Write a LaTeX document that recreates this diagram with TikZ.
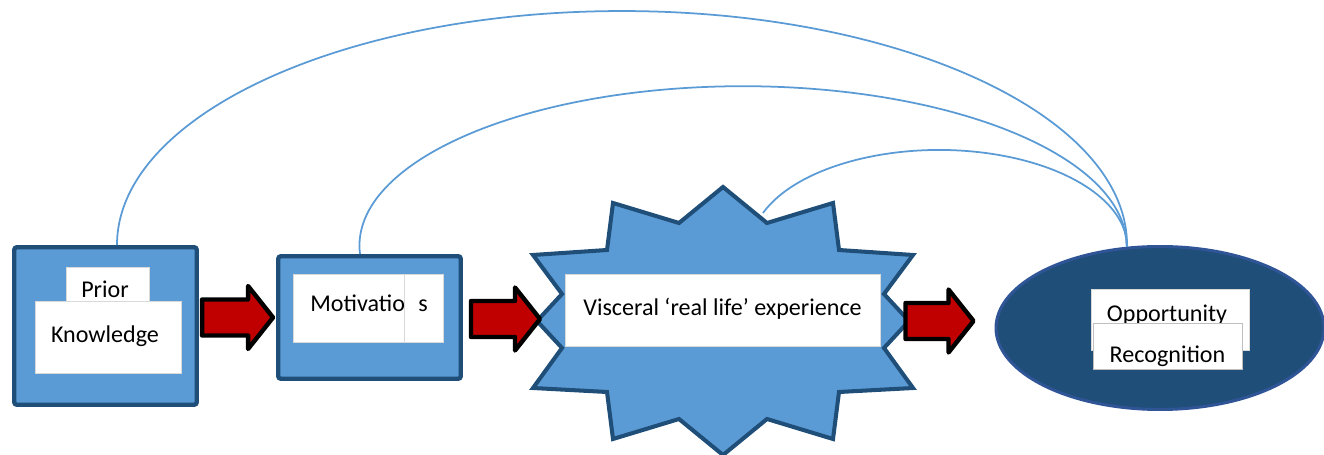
\documentclass[tikz,border=0pt]{standalone}
\usepackage{fontspec}
\setmainfont{Carlito}
\usepackage{tikz}
\usetikzlibrary{shapes.geometric, calc, positioning}

\definecolor{boxblue}{HTML}{5B9BD5}
\definecolor{rimblue}{HTML}{1F4E79}
\definecolor{ovalrim}{HTML}{2F5597}
\definecolor{arrowred}{HTML}{C00000}

% fat red arrow ending at #1, #2 cm long
\newcommand{\redarrow}[2]{%
  \draw[blockarrow] (#1) -- ++(-0.5,0.63) -- ++(0,-0.27) -- ++({0.5-#2},0)
    -- ++(0,-0.72) -- ++({#2-0.5},0) -- ++(0,-0.27) -- cycle;}

\begin{document}
\begin{tikzpicture}[
    bigbox/.style={draw=rimblue, fill=boxblue, line width=2.5pt, rounded corners=1.5pt, inner sep=0pt},
    whitebox/.style={fill=white, draw=black!15, line width=0.4pt, inner sep=0pt},
    boxtext/.style={font=\fontsize{13.7}{16}\selectfont, inner sep=0pt, anchor=base},
    blockarrow/.style={draw=black, fill=arrowred, line width=2.5pt, line join=round},
    burst/.style={draw=rimblue, fill=boxblue, line width=2.3pt, line join=miter},
    link/.style={draw=boxblue, line width=1pt}
  ]
    \useasboundingbox (0,0) rectangle (26.48,9.1);

    % Prior Knowledge
    \node[bigbox, minimum width=3.65cm, minimum height=3.15cm] (prior) at (2.11,2.58) {};
    \node[whitebox, minimum width=1.66cm, minimum height=0.88cm] (priorbox) at (2.15,3.32) {};
    \node[whitebox, minimum width=2.92cm, minimum height=1.44cm] (knowbox) at (2.16,2.36) {};
    \node[boxtext] (priortxt) at (2.1,3.14) {Prior};
    \node[boxtext] (knowtxt) at (2.1,2.24) {Knowledge};

    % Motivations
    \node[bigbox, minimum width=3.65cm, minimum height=2.45cm] (moti) at (7.39,2.75) {};
    \node[whitebox, minimum width=3cm, minimum height=1.36cm] (motibox) at (7.36,2.94) {};
    \draw[black!15] ($(motibox.north west)!0.74!(motibox.north east)$) -- ($(motibox.south west)!0.74!(motibox.south east)$);
    \node[boxtext, anchor=base west] (motitxt) at (6.2,2.86) {Motivatio};
    \node[boxtext] (motis) at (8.46,2.86) {s};

    % Visceral experience burst
    \coordinate (star) at (14.46,2.68);
    \draw[burst, shift={(star)}] (0,2.68) -- (0.88,1.96) -- (2.2,2.36) -- (2.32,1.42)
        -- (3.8,1.32) -- (3.22,0.54) -- (3.72,0) -- (3.22,-0.54) -- (3.8,-1.34)
        -- (2.32,-1.42) -- (2.2,-2.36) -- (0.88,-1.96) -- (0,-2.68) -- (-0.88,-1.96)
        -- (-2.2,-2.36) -- (-2.32,-1.42) -- (-3.8,-1.34) -- (-3.22,-0.54) -- (-3.72,0)
        -- (-3.22,0.54) -- (-3.8,1.32) -- (-2.32,1.42) -- (-2.2,2.36) -- (-0.88,1.96) -- cycle;
    \node[whitebox, minimum width=6.3cm, minimum height=1.44cm] (viscbox) at (14.45,2.9) {};
    \node[boxtext] (visctxt) at (14.45,2.78) {Visceral ‘real life’ experience};

    % Opportunity Recognition
    \node[ellipse, draw=ovalrim, fill=rimblue, line width=1.7pt, minimum width=6.56cm,
        minimum height=3.26cm, inner sep=0pt] (opp) at (23.2,2.54) {};
    \node[whitebox, minimum width=3.16cm, minimum height=1.22cm] (oppbox) at (23.4,2.71) {};
    \node[boxtext] (opptxt) at (23.34,2.66) {Opportunity};
    \node[whitebox, draw=black!25, minimum width=2.98cm, minimum height=0.92cm] (recbox) at (23.35,2.18) {};
    \node[boxtext] (rectxt) at (23.35,1.84) {Recognition};

    % Red arrows between the stages
    \coordinate (a1) at ($(moti.west)+(-0.06,0)$);
    \coordinate (a2) at ($(star)+(-3.66,0.04)$);
    \coordinate (a3) at ($(opp.west)+(-0.42,0.14)$);
    \redarrow{a1}{1.42}
    \redarrow{a2}{1.38}
    \redarrow{a3}{1.36}

    % Feedback arcs, all landing on the oval at (hub)
    \coordinate (hub) at ($(opp.north)+(-0.66,-0.02)$);
    \draw[link] ($(prior.north)+(0.23,0)$) arc[start angle=180, end angle=0, x radius=10.1cm, y radius=4.68cm];
    \draw[link] ($(moti.north)+(-0.19,0)$) arc[start angle=183, end angle=0, x radius=7.67cm, y radius=3.19cm];
    \draw[link] ($(star)+(0.8,2.16)$) arc[start angle=159.5, end angle=0, x radius=3.76cm, y radius=1.94cm];
\end{tikzpicture}
\end{document}
